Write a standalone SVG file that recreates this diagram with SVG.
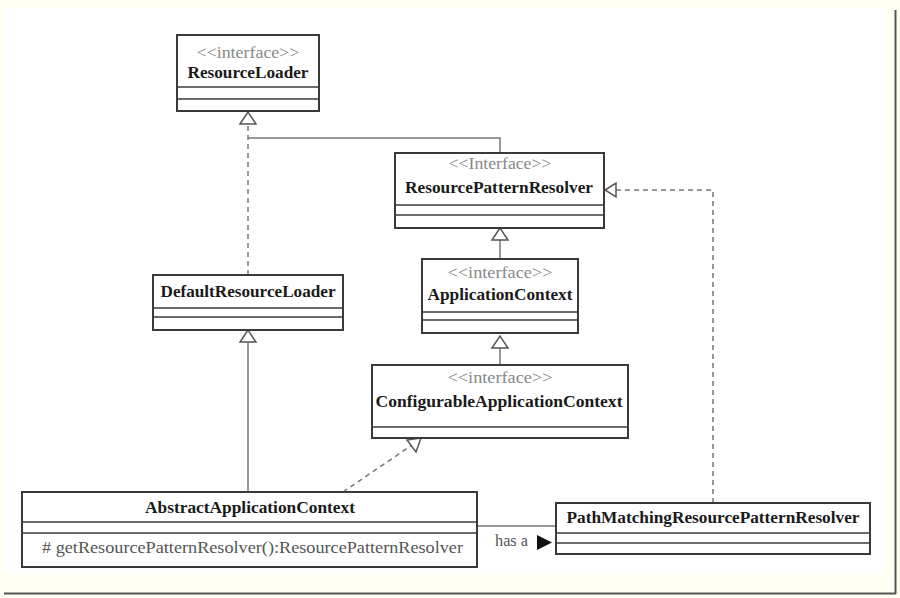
<svg xmlns="http://www.w3.org/2000/svg" width="900" height="598" viewBox="0 0 900 598">
<defs>
<style>
.box{fill:#fff;stroke:#3a3a3a;stroke-width:2}
.sep{stroke:#3a3a3a;stroke-width:1.5}
.st{font-family:"Liberation Serif",serif;font-size:16px;fill:#888;text-anchor:middle}
.nm{font-family:"Liberation Serif",serif;font-size:16px;font-weight:bold;fill:#1a1a1a;text-anchor:middle}
.md{font-family:"Liberation Serif",serif;font-size:16px;fill:#555}
.ln{fill:none;stroke:#777;stroke-width:1.5}
.dl{fill:none;stroke:#777;stroke-width:1.5;stroke-dasharray:5,4}
.tri{fill:#fff;stroke:#555;stroke-width:1.5}
</style>
</defs>
<rect x="0" y="0" width="900" height="598" fill="#fffff2"/>
<rect x="4" y="8" width="881" height="565" fill="#ffffff"/>
<line x1="895.5" y1="10" x2="895.5" y2="594" stroke="#555" stroke-width="2"/>
<line x1="4" y1="593.5" x2="896" y2="593.5" stroke="#555" stroke-width="2"/>

<g id="connectors">
<polyline class="ln" points="500,153 500,138 248,138"/>
<line class="dl" x1="248" y1="275" x2="248" y2="124"/>
<polygon class="tri" points="248,112 240,124 256,124"/>
<line class="ln" x1="248" y1="342" x2="248" y2="492"/>
<polygon class="tri" points="248,330 240,342 256,342"/>
<line class="ln" x1="500" y1="240" x2="500" y2="259"/>
<polygon class="tri" points="500,228 492,240 508,240"/>
<line class="ln" x1="500" y1="348" x2="500" y2="365"/>
<polygon class="tri" points="500,336 492,348 508,348"/>
<line class="dl" x1="343" y1="492" x2="412" y2="445"/>
<polygon class="tri" points="421,438 407,440 416,452"/>
<polyline class="dl" points="713,503 713,190 616,190"/>
<polygon class="tri" points="605,190 616,183 616,197"/>
<line class="ln" x1="477" y1="526" x2="556" y2="526"/>
<text class="md" x="495" y="546" textLength="33" lengthAdjust="spacingAndGlyphs" fill="#444">has a</text>
<polygon points="537,535 552,542.5 537,550" fill="#111"/>
</g>

<g id="ResourceLoader">
<rect class="box" x="177" y="35" width="142" height="76"/>
<line class="sep" x1="177" y1="87" x2="319" y2="87"/>
<line class="sep" x1="177" y1="99" x2="319" y2="99"/>
<text class="st" x="248" y="58" textLength="103" lengthAdjust="spacingAndGlyphs">&lt;&lt;interface&gt;&gt;</text>
<text class="nm" x="248" y="78" textLength="121" lengthAdjust="spacingAndGlyphs">ResourceLoader</text>
</g>

<g id="ResourcePatternResolver">
<rect class="box" x="395" y="153" width="209" height="75"/>
<line class="sep" x1="395" y1="205" x2="604" y2="205"/>
<line class="sep" x1="395" y1="215" x2="604" y2="215"/>
<text class="st" x="500" y="169" textLength="103" lengthAdjust="spacingAndGlyphs">&lt;&lt;Interface&gt;&gt;</text>
<text class="nm" x="499" y="193" textLength="188" lengthAdjust="spacingAndGlyphs">ResourcePatternResolver</text>
</g>

<g id="DefaultResourceLoader">
<rect class="box" x="153" y="275" width="190" height="55"/>
<line class="sep" x1="153" y1="308" x2="343" y2="308"/>
<line class="sep" x1="153" y1="317" x2="343" y2="317"/>
<text class="nm" x="248" y="297" textLength="175" lengthAdjust="spacingAndGlyphs">DefaultResourceLoader</text>
</g>

<g id="ApplicationContext">
<rect class="box" x="422" y="259" width="156" height="74"/>
<line class="sep" x1="422" y1="312" x2="578" y2="312"/>
<line class="sep" x1="422" y1="320" x2="578" y2="320"/>
<text class="st" x="500" y="278" textLength="105" lengthAdjust="spacingAndGlyphs">&lt;&lt;interface&gt;&gt;</text>
<text class="nm" x="500" y="300" textLength="145" lengthAdjust="spacingAndGlyphs">ApplicationContext</text>
</g>

<g id="ConfigurableApplicationContext">
<rect class="box" x="372" y="365" width="256" height="73"/>
<line class="sep" x1="372" y1="427" x2="628" y2="427"/>
<text class="st" x="500" y="383" textLength="105" lengthAdjust="spacingAndGlyphs">&lt;&lt;interface&gt;&gt;</text>
<text class="nm" x="499" y="407" textLength="247" lengthAdjust="spacingAndGlyphs">ConfigurableApplicationContext</text>
</g>

<g id="AbstractApplicationContext">
<rect class="box" x="22" y="492" width="455" height="75"/>
<line class="sep" x1="22" y1="522" x2="477" y2="522"/>
<line class="sep" x1="22" y1="533" x2="477" y2="533"/>
<text class="nm" x="250" y="513" textLength="210" lengthAdjust="spacingAndGlyphs">AbstractApplicationContext</text>
<text class="md" x="42" y="553" textLength="421" lengthAdjust="spacingAndGlyphs"># getResourcePatternResolver():ResourcePatternResolver</text>
</g>

<g id="PathMatchingResourcePatternResolver">
<rect class="box" x="556" y="503" width="314" height="51"/>
<line class="sep" x1="556" y1="533" x2="870" y2="533"/>
<line class="sep" x1="556" y1="543" x2="870" y2="543"/>
<text class="nm" x="713" y="523" textLength="293" lengthAdjust="spacingAndGlyphs">PathMatchingResourcePatternResolver</text>
</g>
</svg>
